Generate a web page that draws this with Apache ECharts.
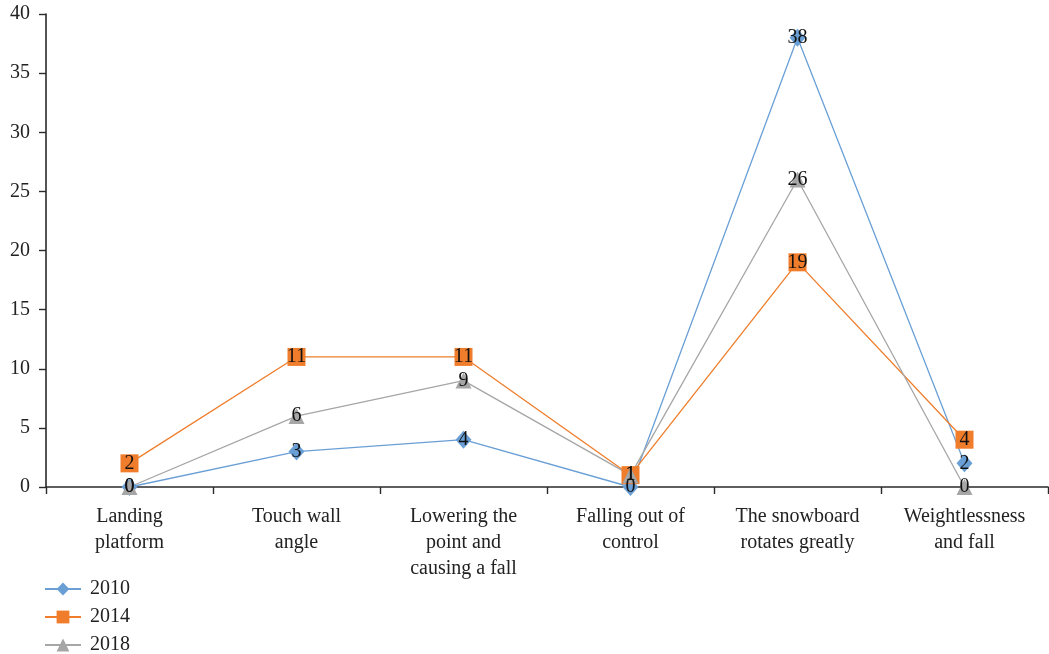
<!DOCTYPE html>
<html><head><meta charset="utf-8">
<script src="https://cdn.jsdelivr.net/npm/echarts@6/dist/echarts.min.js"></script>
<style>html,body{margin:0;padding:0;background:#fff}#c{width:1049px;height:654px}</style>
</head><body><div id="c"></div>
<script>
var categories = ["Landing\nplatform","Touch wall\nangle","Lowering the\npoint and\ncausing a fall","Falling out of\ncontrol","The snowboard\nrotates greatly","Weightlessness\nand fall"];
var seriesNames = ["2010","2014","2018"];
var s2010 = [0,3,4,0,38,2];
var s2014 = [2,11,11,1,19,4];
var s2018 = [0,6,9,1,26,0];
var yTicks = {min:0,max:40,interval:5};
var F = '"Liberation Serif", "DejaVu Serif", serif';
function ser(name, data, color, symbol, size){
  return {name:name,type:'line',data:data,symbol:symbol,symbolSize:size,
    lineStyle:{color:color,width:1.3},itemStyle:{color:color},
    label:{show:true,position:'inside',color:'#111',fontFamily:F,fontSize:20},
    z: 2};
}
var legendTops = [579,607,635];
var legends = seriesNames.map(function(n,i){
  return {orient:'vertical',left:44,top:legendTops[i],padding:0,itemWidth:36,itemHeight:16,
    textStyle:{fontFamily:F,fontSize:20,color:'#222',lineHeight:20,padding:[0,0,0,4]},
    data:[n]};
});
var chart = echarts.init(document.getElementById('c'));
chart.setOption({
  animation:false,
  textStyle:{fontFamily:F},
  grid:{left:46,right:1,top:14,bottom:167,containLabel:false},
  legend:legends,
  xAxis:{type:'category',data:categories,boundaryGap:true,
    axisLine:{lineStyle:{color:'#2a2a2a',width:1.6}},
    axisTick:{show:true,length:7,lineStyle:{color:'#2a2a2a',width:1.4}},
    axisLabel:{fontFamily:F,fontSize:20,color:'#222',lineHeight:26,margin:17,interval:0}},
  yAxis:{type:'value',min:yTicks.min,max:yTicks.max,interval:yTicks.interval,
    splitLine:{show:false},
    axisLine:{show:true,lineStyle:{color:'#2a2a2a',width:1.6}},
    axisTick:{show:true,length:7,lineStyle:{color:'#2a2a2a',width:1.4}},
    axisLabel:{fontFamily:F,fontSize:20,color:'#222',margin:16}},
  series:[
    ser(seriesNames[0],s2010,'#6a9fd6','diamond',[16,18]),
    ser(seriesNames[1],s2014,'#ef7d2b','rect',18),
    ser(seriesNames[2],s2018,'#a6a6a6','triangle',16)
  ]
});
</script></body></html>
